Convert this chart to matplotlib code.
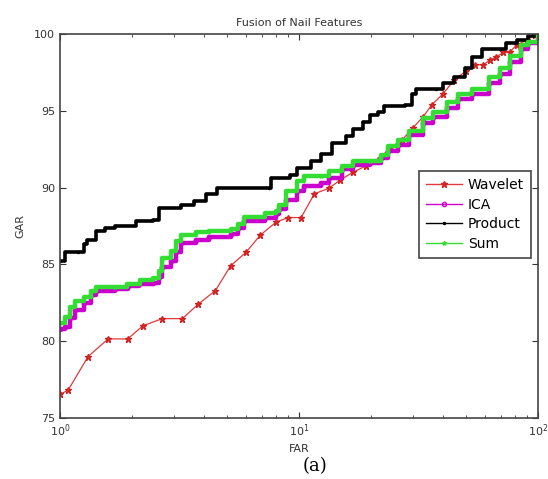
import matplotlib
matplotlib.use("Agg")
import matplotlib.pyplot as plt
import numpy as np
from matplotlib.ticker import LogLocator, NullFormatter

# values (FAR in %, GAR in %)
wavelet_far = [1.0, 1.08, 1.31, 1.59, 1.92, 2.22, 2.68, 3.25, 3.78, 4.47, 5.17, 6.01, 6.88,
               8.01, 9.0, 10.2, 11.6, 13.3, 14.9, 16.8, 19.0, 21.5, 24.0, 27.0, 30.0, 33.0,
               36.0, 40.0, 44.6, 50.0, 54.7, 59.0, 63.0, 67.0, 71.5, 76.0, 81.5, 90.0, 96.7, 100]
wavelet_gar = [76.55, 76.8, 79.0, 80.15, 80.15, 81.0, 81.47, 81.47, 82.4, 83.3, 84.9, 85.8, 86.9,
               87.75, 88.05, 88.05, 89.6, 89.95, 90.5, 91.0, 91.4, 91.8, 92.6, 93.1, 93.9, 94.6,
               95.4, 96.1, 97.0, 97.6, 98.0, 98.0, 98.3, 98.5, 98.8, 98.8, 99.3, 99.6, 99.95, 100]

ica_far = [1.0, 1.05, 1.10, 1.16, 1.26, 1.35, 1.41, 1.70, 1.92, 2.15, 2.46, 2.59, 2.68, 2.92,
           3.07, 3.22, 3.69, 4.22, 5.17, 5.53, 5.91, 7.24, 8.01, 8.28, 8.85, 9.80, 10.5, 12.4,
           13.3, 15.2, 16.8, 19.9, 22.0, 23.5, 26.0, 28.8, 32.9, 36.4, 41.7, 46.1, 52.8, 62.4,
           69.0, 76.4, 84.5, 90.4, 100]
ica_gar = [80.8, 80.9, 81.5, 82.0, 82.5, 83.0, 83.3, 83.4, 83.6, 83.7, 83.8, 84.2, 84.8, 85.2,
           85.8, 86.4, 86.6, 86.8, 87.0, 87.4, 87.8, 88.0, 88.3, 88.6, 89.2, 89.8, 90.1, 90.3,
           90.6, 91.2, 91.5, 91.6, 91.9, 92.4, 92.8, 93.4, 94.2, 94.6, 95.2, 95.8, 96.1, 96.8,
           97.4, 98.2, 99.0, 99.4, 100]

product_far = [1.0, 1.045, 1.195, 1.257, 1.30, 1.414, 1.538, 1.70, 2.08, 2.46, 2.59, 3.22, 3.63,
               4.08, 4.52, 7.49, 7.62, 9.17, 9.81, 11.2, 12.4, 13.7, 15.7, 16.8, 18.6, 19.9,
               21.3, 22.7, 27.8, 29.8, 30.8, 37.6, 40.2, 44.5, 49.3, 52.7, 58.4, 69.2, 73.7,
               81.3, 90.4, 100]
product_gar = [85.2, 85.8, 85.8, 86.3, 86.6, 87.2, 87.4, 87.5, 87.8, 87.9, 88.7, 88.9, 89.15,
               89.6, 89.95, 89.95, 90.6, 90.85, 91.3, 91.75, 92.2, 92.9, 93.35, 93.8, 94.25, 94.7,
               94.95, 95.3, 95.4, 96.1, 96.4, 96.4, 96.8, 97.2, 97.8, 98.5, 99.0, 99.0, 99.4,
               99.6, 99.85, 100]

sum_far = [1.0, 1.045, 1.099, 1.156, 1.257, 1.345, 1.414, 1.70, 1.915, 2.154, 2.46, 2.59, 2.68,
           2.92, 3.07, 3.22, 3.69, 4.22, 5.17, 5.53, 5.91, 7.24, 8.01, 8.28, 8.85, 9.80, 10.5,
           12.4, 13.3, 15.2, 16.8, 19.9, 22.0, 23.5, 26.0, 28.8, 32.9, 36.4, 41.7, 46.1, 52.8,
           62.4, 69.0, 76.4, 84.5, 90.4, 100]
sum_gar = [81.2, 81.6, 82.2, 82.65, 82.9, 83.3, 83.55, 83.55, 83.7, 84.0, 84.1, 84.6, 85.4,
           85.85, 86.5, 86.9, 87.1, 87.2, 87.3, 87.65, 88.1, 88.35, 88.45, 88.9, 89.8, 90.4,
           90.75, 90.75, 91.1, 91.4, 91.75, 91.75, 92.1, 92.7, 93.1, 93.7, 94.5, 94.95, 95.6,
           96.1, 96.4, 97.2, 97.8, 98.6, 99.3, 99.5, 100]

yticks = [75, 80, 85, 90, 95, 100]

fig = plt.figure(figsize=(5.48, 4.79), dpi=100)
ax = fig.add_axes([0.1095, 0.1273, 0.8723, 0.8017])

ax.plot(wavelet_far, wavelet_gar, color='#e03a3a', lw=0.9, marker='*', ms=5,
        mec='#d02020', label='Wavelet')
ax.plot(ica_far, ica_gar, color='#cc00cc', lw=3.2, drawstyle='steps-post',
        marker='o', ms=3, mfc='none', label='ICA')
ax.plot(product_far, product_gar, color='black', lw=2.6, drawstyle='steps-post',
        marker='.', ms=3, label='Product')
ax.plot(sum_far, sum_gar, color='#33dd33', lw=3.2, drawstyle='steps-post',
        marker='*', ms=3, label='Sum')

ax.set_xscale('log')
ax.set_xlim(1, 100)
ax.set_ylim(75, 100)
ax.set_yticks(yticks)
ax.xaxis.set_major_locator(LogLocator(base=10))
ax.xaxis.set_minor_locator(LogLocator(base=10, subs=np.arange(2, 10)))
ax.xaxis.set_minor_formatter(NullFormatter())
ax.tick_params(which='both', direction='in', top=True, right=True, labelsize=8, colors='#333333')
ax.tick_params(which='major', length=4)
ax.tick_params(which='minor', length=2)
for s in ax.spines.values():
    s.set_color('#444444')
    s.set_linewidth(1.2)

ax.set_title('Fusion of Nail Features', fontsize=8, color='#333333', pad=6)
ax.set_xlabel('FAR', fontsize=8, color='#333333', labelpad=3)
ax.set_ylabel('GAR', fontsize=8, color='#333333', labelpad=6)

leg = ax.legend(loc='upper right', bbox_to_anchor=(0.985, 0.643), borderaxespad=0,
                fontsize=10, fancybox=False, framealpha=1, edgecolor='#444444',
                handlelength=2.6, borderpad=0.5, labelspacing=0.4, handletextpad=0.4)
leg.get_frame().set_linewidth(1.2)
for line in leg.get_lines():
    line.set_linewidth(1.0)

fig.text(0.575, 0.028, '(a)', fontsize=13, family='DejaVu Serif', ha='center', va='center')

fig.savefig('out.png', dpi=100)
